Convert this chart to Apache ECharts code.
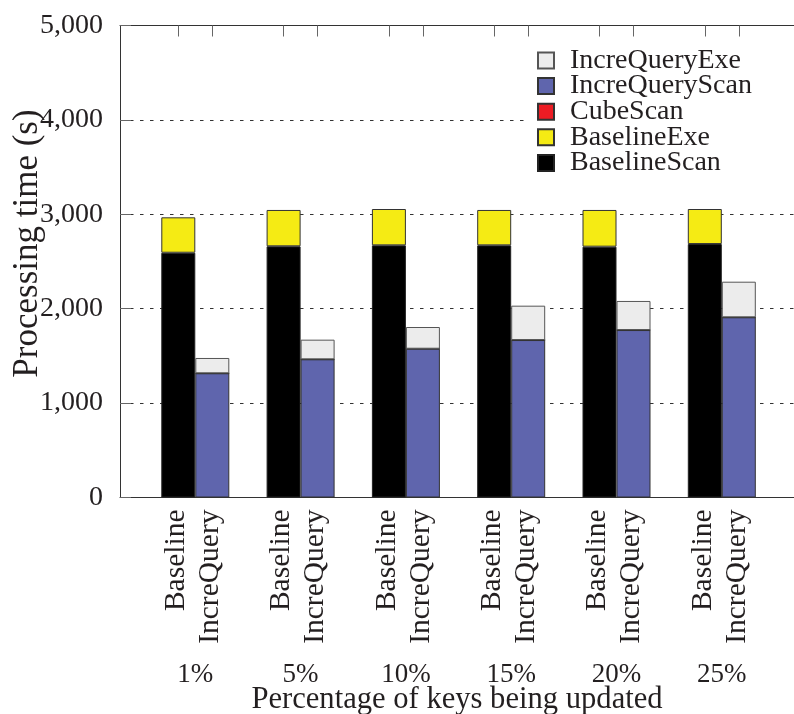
<!DOCTYPE html>
<html>
<head>
<meta charset="utf-8">
<script src="https://cdn.jsdelivr.net/npm/echarts@6/dist/echarts.min.js"></script>
<style>
  html, body { margin: 0; padding: 0; background: #fff; }
  #chart { width: 794px; height: 714px; }
</style>
</head>
<body>
<div id="chart"></div>
<script>
// Percentage of keys updated (one group per entry)
const categories = ['1%', '5%', '10%', '15%', '20%', '25%'];
const barNames = ['Baseline', 'IncreQuery'];

// Processing time components, seconds
const baselineScan   = [2593, 2661, 2671, 2671, 2657, 2685];
const baselineExe    = [375, 385, 385, 375, 389, 371];
const cubeScan       = [0, 0, 0, 0, 0, 0];
const increQueryScan = [1316, 1464, 1576, 1668, 1774, 1909];
const increQueryExe  = [162, 208, 230, 364, 308, 377];

const yTicks = [0, 1000, 2000, 3000, 4000, 5000];

const FONT = 'Liberation Serif';
const TEXT = '#231f20';

// Frame grid spans the full plot box; the bar grid is inset so that
// each category band is one group (two adjacent 34px bars).
const FRAME = { left: 120, right: 0, top: 25.5, bottom: 216.5, outerBoundsMode: 'none' };
const BARS  = { left: 142.65, right: 19.55, top: 25.5, bottom: 216.5, outerBoundsMode: 'none' };

// Frame x axis in group units (group i at x = i), matching the bar grid bands
const X_MIN = -0.215 - 0.5;
const X_MAX = X_MIN + (794 - FRAME.left - FRAME.right) / 105.3;
const HALF = 17 / 105.3; // half a bar width in group units
const LABEL_NUDGE = 2 / 105.3;

const barCenters = [];
categories.forEach((_, i) => { barCenters.push(i - HALF, i + HALF); });
const barLabelPos = barCenters.map(v => v - LABEL_NUDGE);

function nearestIndex(arr, v) {
  let best = 0, d = Infinity;
  arr.forEach((a, i) => { const e = Math.abs(a - v); if (e < d) { d = e; best = i; } });
  return best;
}

const chart = echarts.init(document.getElementById('chart'), null, { renderer: 'canvas' });

function bar(name, stack, vals, color, border) {
  return {
    name, type: 'bar', stack, xAxisIndex: 3, yAxisIndex: 1,
    barWidth: 34, barGap: '0%',
    data: vals,
    itemStyle: { color, borderColor: border, borderWidth: 1 },
    emphasis: { disabled: true }
  };
}

const hiddenAxisParts = {
  axisLine: { show: false, onZero: false }, axisTick: { show: false }, splitLine: { show: false }
};
const frameLine = { show: true, onZero: false, lineStyle: { color: '#333', width: 1 } };

chart.setOption({
  animation: false,
  backgroundColor: '#fff',
  textStyle: { fontFamily: FONT, color: TEXT },
  grid: [FRAME, BARS],
  legend: {
    orient: 'vertical',
    left: 528, top: 38.5,
    padding: [8, 70, 6, 9],
    backgroundColor: '#fff',
    itemWidth: 16, itemHeight: 16, itemGap: -2.4,
    icon: 'rect',
    data: ['IncreQueryExe', 'IncreQueryScan', 'CubeScan', 'BaselineExe', 'BaselineScan'],
    textStyle: { fontFamily: FONT, fontSize: 28, color: TEXT, padding: [0, 0, 0, 11] }
  },
  xAxis: [
    {
      gridIndex: 0, type: 'value', position: 'bottom', min: X_MIN, max: X_MAX,
      axisLine: frameLine,
      axisTick: { show: false }, splitLine: { show: false }, axisLabel: { show: false },
      name: 'Percentage of keys being updated',
      nameLocation: 'middle', nameGap: 187, nameMoveOverlap: false,
      nameTextStyle: { fontFamily: FONT, fontSize: 30.6, color: TEXT }
    },
    {
      gridIndex: 0, type: 'value', position: 'top', min: X_MIN, max: X_MAX,
      axisLine: frameLine,
      axisTick: { show: true, inside: true, length: 11, customValues: barCenters,
                  lineStyle: { color: '#666' } },
      splitLine: { show: false }, axisLabel: { show: false }
    },
    {
      gridIndex: 0, type: 'value', position: 'bottom', min: X_MIN, max: X_MAX,
      ...hiddenAxisParts,
      axisLabel: {
        customValues: barLabelPos,
        formatter: v => barNames[nearestIndex(barLabelPos, v) % 2],
        rotate: 90, margin: 12, fontFamily: FONT, fontSize: 29.5, color: TEXT
      }
    },
    {
      gridIndex: 1, type: 'category', data: categories, position: 'bottom',
      ...hiddenAxisParts,
      axisLabel: { margin: 164, fontFamily: FONT, fontSize: 27, color: TEXT }
    }
  ],
  yAxis: [
    {
      gridIndex: 0, type: 'value',
      min: yTicks[0], max: yTicks[yTicks.length - 1], interval: 1000,
      axisLine: frameLine,
      axisTick: { show: true, inside: true, length: 11, lineStyle: { color: '#666' } },
      splitLine: { show: true, lineStyle: { color: '#333', width: 1, type: [3.5, 6.5] } },
      axisLabel: {
        formatter: v => v.toLocaleString('en-US'),
        margin: 17, fontFamily: FONT, fontSize: 28, color: TEXT
      },
      name: 'Processing time (s)',
      nameLocation: 'middle', nameGap: 75, nameRotate: 90, nameMoveOverlap: false,
      nameTextStyle: { fontFamily: FONT, fontSize: 35, color: TEXT, padding: [0, 0, 0, 36] }
    },
    {
      gridIndex: 1, type: 'value',
      min: yTicks[0], max: yTicks[yTicks.length - 1],
      ...hiddenAxisParts, axisLabel: { show: false }
    }
  ],
  series: [
    bar('BaselineScan', 'base', baselineScan, '#000000', '#222'),
    bar('BaselineExe', 'base', baselineExe, '#f5eb14', '#333'),
    bar('IncreQueryScan', 'iq', increQueryScan, '#5f65ad', '#333'),
    bar('CubeScan', 'iq', cubeScan, '#ed1c24', '#333'),
    bar('IncreQueryExe', 'iq', increQueryExe, '#ececec', '#555')
  ]
});
</script>
</body>
</html>
